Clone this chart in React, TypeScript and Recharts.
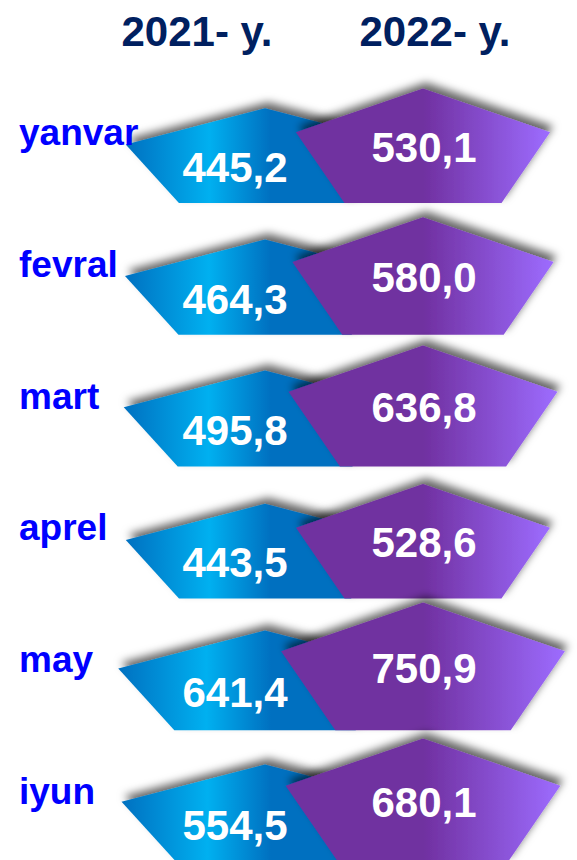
import React from 'react';
import { ScatterChart, Scatter, XAxis, YAxis, ZAxis } from 'recharts';

const MONTHS = ['yanvar', 'fevral', 'mart', 'aprel', 'may', 'iyun'];
const YEARS = ['2021- y.', '2022- y.'];
const VALUES_2021 = [445.2, 464.3, 495.8, 443.5, 641.4, 554.5];
const VALUES_2022 = [530.1, 580.0, 636.8, 528.6, 750.9, 680.1];

const data2021 = MONTHS.map((month, i) => ({ year: YEARS[0], month, value: VALUES_2021[i] }));
const data2022 = MONTHS.map((month, i) => ({ year: YEARS[1], month, value: VALUES_2022[i] }));

const FONT = '"Liberation Sans", Arial, Helvetica, sans-serif';
const ROW_HALF = 66;
// header labels don't sit over the shape centres in the original
const HEADER_SHIFT = [-68, 12];

const area = (w: number) => Math.PI * (w / 2) * (w / 2);
const fmt = (v: number) => v.toFixed(1).replace('.', ',');

function Pentagon(props: any) {
  const { cx, cy, width, size, payload, gradId, ratio, textDx, textRise } = props;
  if (cx == null || cy == null) return null;
  const w = width ?? 2 * Math.sqrt(size / Math.PI);
  const h = w * ratio;
  const b = cy + ROW_HALF;
  const pts = [
    [cx, b - h],
    [cx + w / 2, b - 0.618 * h],
    [cx + 0.309 * w, b],
    [cx - 0.309 * w, b],
    [cx - w / 2, b - 0.618 * h],
  ]
    .map((p) => p.join(','))
    .join(' ');
  return (
    <g>
      <polygon points={pts} fill={`url(#${gradId})`} filter="url(#shapeShadow)" />
      <text
        x={cx + textDx}
        y={b - h * textRise + 15}
        textAnchor="middle"
        fill="#ffffff"
        fontSize={42}
        fontWeight="bold"
        fontFamily={FONT}
      >
        {fmt(payload.value)}
      </text>
    </g>
  );
}

function YearTick(props: any) {
  const { x, payload } = props;
  const i = YEARS.indexOf(payload?.value);
  if (i < 0 || x == null || isNaN(x)) return null;
  return (
    <text
      x={x + HEADER_SHIFT[i]}
      y={46}
      textAnchor="middle"
      fill="#002060"
      fontSize={42}
      fontWeight="bold"
      fontFamily={FONT}
    >
      {payload.value}
    </text>
  );
}

function MonthTick(props: any) {
  const { y, payload } = props;
  return (
    <text x={19} y={y + 8} textAnchor="start" fill="#0000ff" fontSize={37} fontWeight="bold" fontFamily={FONT}>
      {payload.value}
    </text>
  );
}

export default function App() {
  return (
    <div style={{ width: 577, height: 860, overflow: 'hidden', background: '#fff' }}>
      <style>{'body{margin:0}'}</style>
      <ScatterChart width={577} height={862} margin={{ top: 0, right: 75, bottom: 0, left: 0 }}>
        <defs>
          <linearGradient id="grad2021" x1="0" y1="0" x2="1" y2="0">
            <stop offset="0" stopColor="#0070c0" />
            <stop offset="0.3" stopColor="#00b0f0" />
            <stop offset="0.52" stopColor="#0070c0" />
            <stop offset="1" stopColor="#0070c0" />
          </linearGradient>
          <linearGradient id="grad2022" x1="0" y1="0" x2="1" y2="0">
            <stop offset="0" stopColor="#7030a0" />
            <stop offset="0.5" stopColor="#7030a0" />
            <stop offset="1" stopColor="#9d6cff" />
          </linearGradient>
          <filter id="shapeShadow" x="-20%" y="-40%" width="140%" height="170%">
            <feDropShadow dx="3" dy="-6" stdDeviation="4" floodColor="#000" floodOpacity="0.6" />
          </filter>
        </defs>
        <XAxis
          type="category"
          dataKey="year"
          orientation="top"
          height={71}
          scale="band"
          allowDuplicatedCategory={false}
          ticks={YEARS}
          interval={0}
          axisLine={false}
          tickLine={false}
          tick={<YearTick />}
        />
        <YAxis
          type="category"
          dataKey="month"
          width={186}
          scale="band"
          reversed
          allowDuplicatedCategory={false}
          interval={0}
          axisLine={false}
          tickLine={false}
          tick={<MonthTick />}
        />
        <ZAxis zAxisId="z21" type="number" dataKey="value" domain={[400, 800]} range={[area(275), area(305)]} />
        <ZAxis zAxisId="z22" type="number" dataKey="value" domain={[400, 800]} range={[area(235), area(290)]} />
        <Scatter
          data={data2021}
          zAxisId="z21"
          isAnimationActive={false}
          shape={(p: any) => <Pentagon {...p} gradId="grad2021" ratio={0.34} textDx={-30} textRise={0.38} />}
        />
        <Scatter
          data={data2022}
          zAxisId="z22"
          isAnimationActive={false}
          shape={(p: any) => <Pentagon {...p} gradId="grad2022" ratio={0.45} textDx={1} textRise={0.49} />}
        />
      </ScatterChart>
    </div>
  );
}
